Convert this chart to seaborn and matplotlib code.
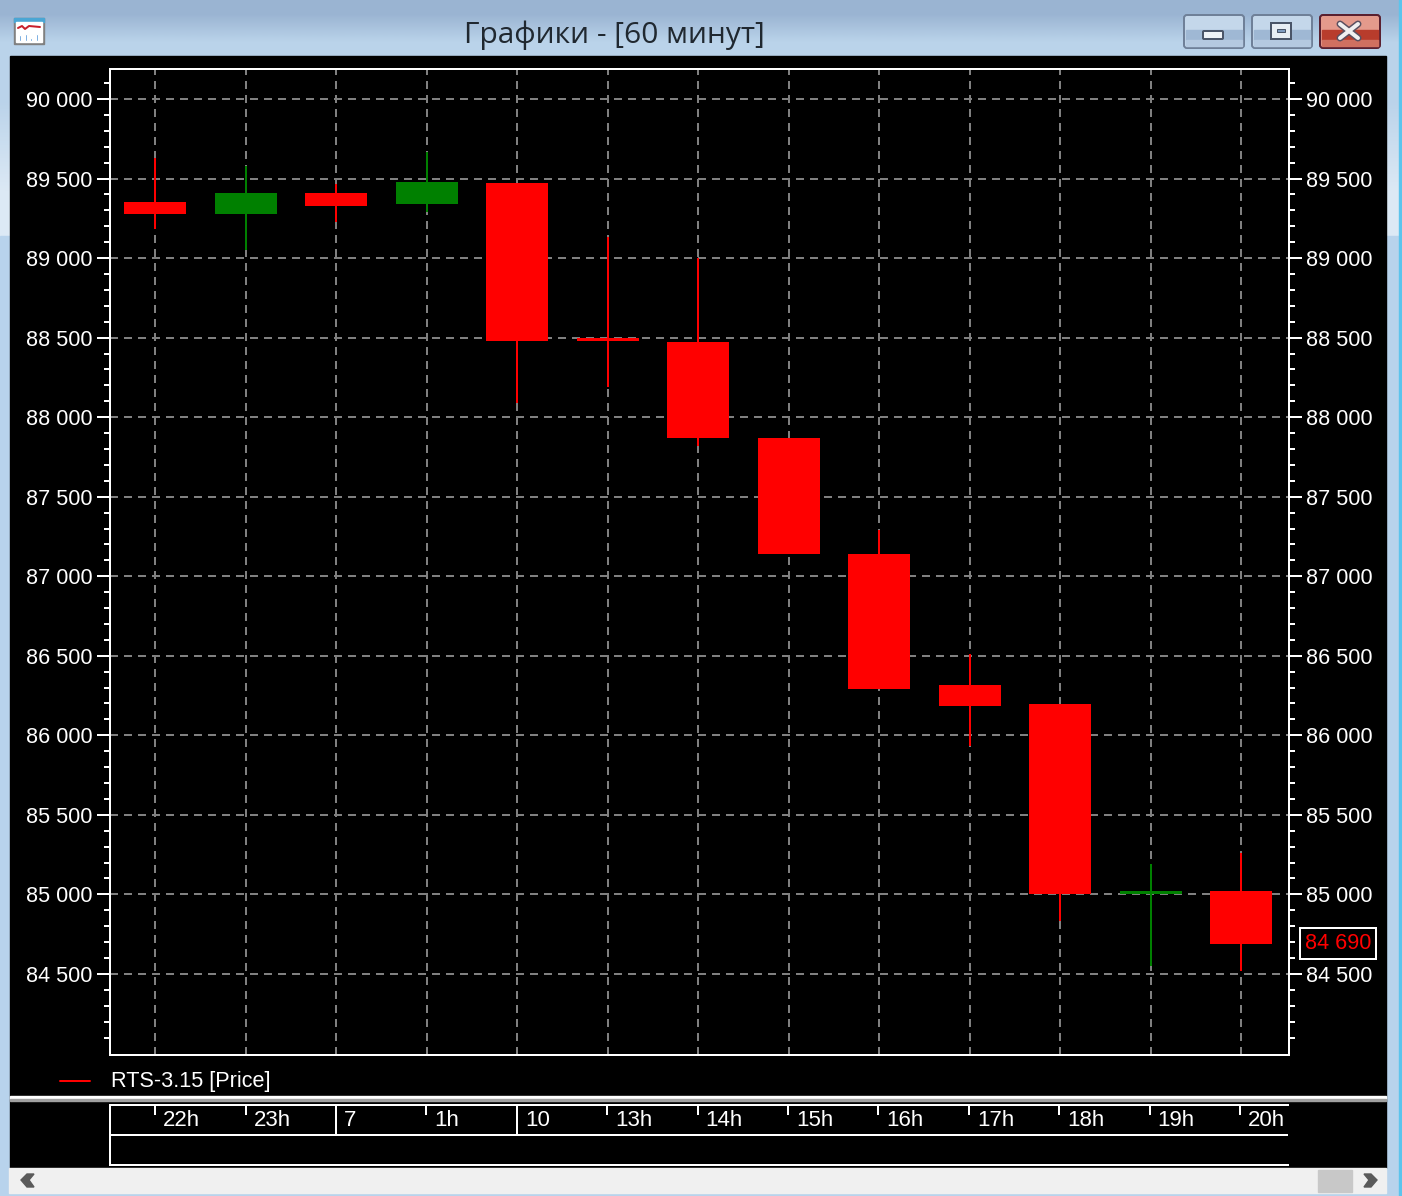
import numpy as np
import pandas as pd
import seaborn as sns
import matplotlib
matplotlib.use('Agg')
import matplotlib.pyplot as plt
from matplotlib.patches import Rectangle, FancyBboxPatch, Polygon
from matplotlib.ticker import FixedLocator, FuncFormatter

hours = ['22h', '23h', '7', '1h', '10', '13h', '14h', '15h', '16h', '17h', '18h', '19h', '20h']
open_price = [89350, 89280, 89410, 89340, 89470, 88500, 88470, 87870, 87140, 86315, 86195, 85000, 85020]
close_price = [89280, 89410, 89330, 89480, 88480, 88480, 87870, 87140, 86290, 86185, 85000, 85020, 84690]
high_price = [89630, 89580, 89465, 89665, 89470, 89130, 89000, 87870, 87290, 86510, 86195, 85190, 85260]
low_price = [89180, 89050, 89225, 89290, 88090, 88190, 87820, 87140, 86290, 85930, 84830, 84550, 84520]
price_labels = [84500, 85000, 85500, 86000, 86500, 87000, 87500, 88000, 88500, 89000, 89500, 90000]
day_marks = ['7', '10']
last_price = 84690
series_name = 'RTS-3.15 [Price]'
window_title = 'Графики - [60 минут]'

W, H = 1402, 1196
sns.set_style('dark')
plt.rcParams['lines.scale_dashes'] = False
plt.rcParams['font.family'] = ['Liberation Sans', 'DejaVu Sans']
PX = 0.72  # one pixel in points at dpi 100


def box(x0, y0, x1, y1):
    # axes rectangle from pixel edges, y counted from the top
    return [x0 / W, 1 - y1 / H, (x1 - x0) / W, (y1 - y0) / H]


df = pd.DataFrame({'hour': hours, 'open': open_price, 'close': close_price,
                   'high': high_price, 'low': low_price})
df['pos'] = np.arange(len(df))
df['bottom'] = df[['open', 'close']].min(axis=1)
df['height'] = (df['open'] - df['close']).abs()
df['up'] = df['close'] > df['open']

fig = plt.figure(figsize=(W / 100, H / 100), dpi=100)

# window chrome
bg = fig.add_axes([0, 0, 1, 1])
bg.axis('off')
grad = np.array([[0.0], [1.0]])
cmap = matplotlib.colors.LinearSegmentedColormap.from_list('win', ['#9ab4d2', '#bad3ea'])
bg.imshow(grad, extent=[0, W, 56, 0], aspect='auto', cmap=cmap, interpolation='bilinear', zorder=0)
cmap2 = matplotlib.colors.LinearSegmentedColormap.from_list('side', ['#bad3ea', '#dce9f5'])
bg.imshow(grad, extent=[0, W, 236, 56], aspect='auto', cmap=cmap2, interpolation='bilinear', zorder=0)
bg.add_patch(Rectangle((0, 236), W, H - 236, color='#b8d3ec', zorder=0))
bg.set_xlim(0, W)
bg.set_ylim(H, 0)
bg.add_patch(Rectangle((1399, 0), 3, H, color='#5cc4ec', zorder=1))
bg.add_patch(Rectangle((10, 56), 1376, 1112, color='black', zorder=1))
bg.add_patch(Rectangle((10, 1096), 1376, 3, color='white', zorder=2))
bg.add_patch(Rectangle((10, 1099), 1376, 2, color='#a0a0a0', zorder=2))
bg.add_patch(Rectangle((9, 1168), 1377, 25, color='#f0f0f0', zorder=1))
bg.add_patch(Rectangle((1318, 1170), 34, 22, color='#c8c8c8', zorder=2))
bg.add_patch(Polygon([[27, 1174], [34, 1174], [29, 1180], [34, 1187], [27, 1187], [21, 1180]], color='#5a5a5a', zorder=2))
bg.add_patch(Polygon([[1364, 1174], [1371, 1174], [1377, 1180], [1371, 1187], [1364, 1187], [1369, 1180]], color='#5a5a5a', zorder=2))

# title icon
bg.add_patch(Rectangle((14, 18), 30, 26, color='#808080', zorder=2))
bg.add_patch(Rectangle((14, 18), 30, 4, color='#4aa6d4', zorder=3))
bg.add_patch(Rectangle((16, 22), 26, 20, color='white', zorder=3))
bg.plot([18, 22, 25, 29, 40], [28, 26, 29, 26, 27], color='#c8202c', lw=2 * PX, zorder=4)
bg.bar([20, 26, 31, 37], [6, 7, 3, 7], width=2, bottom=[35, 34, 38, 34], color='#2f80d0', zorder=4)
bg.set_xlim(0, W)
bg.set_ylim(H, 0)

# window buttons
for x0, x1, top, band, low, edge in [(1184, 1244, '#c4d7ea', '#9fb8d4', '#b4c9e0', '#6f8098'),
                                     (1252, 1312, '#c4d7ea', '#9fb8d4', '#b4c9e0', '#6f8098'),
                                     (1320, 1380, '#e49a8c', '#b83c2c', '#d07060', '#5a2030')]:
    bg.add_patch(FancyBboxPatch((x0, 15), x1 - x0, 33, boxstyle='round,pad=0,rounding_size=3',
                                fc=top, ec=edge, lw=2 * PX, zorder=2))
    bg.add_patch(Rectangle((x0 + 2, 30), x1 - x0 - 4, 10, color=band, zorder=3))
    bg.add_patch(Rectangle((x0 + 2, 40), x1 - x0 - 4, 6, color=low, zorder=3))
bg.add_patch(FancyBboxPatch((1203, 31), 20, 8, boxstyle='round,pad=0,rounding_size=1',
                            fc='#eef2f6', ec='#4a5568', lw=2 * PX, zorder=4))
bg.add_patch(Rectangle((1271, 23), 20, 16, fc='#e8eef4', ec='#4a5568', lw=2 * PX, zorder=4))
bg.add_patch(Rectangle((1277, 29), 8, 3, fc='#7f9cc0', ec='#4a5568', lw=PX, zorder=5))
bg.plot([1340, 1358], [24, 38], color='#5a5060', lw=7 * PX, zorder=4)
bg.plot([1340, 1358], [38, 24], color='#5a5060', lw=7 * PX, zorder=4)
bg.plot([1340, 1358], [24, 38], color='#f0f0f0', lw=4 * PX, zorder=5)
bg.plot([1340, 1358], [38, 24], color='#f0f0f0', lw=4 * PX, zorder=5)
bg.text(614, 35, window_title, ha='center', va='center', fontsize=21.5,
        family=['Open Sans', 'DejaVu Sans'], color='#202830', zorder=5)

# legend strip
bg.plot([60, 90], [1081, 1081], color='red', lw=2 * PX, zorder=3)
bg.text(111, 1081, series_name, ha='left', va='center', color='white', fontsize=15.6, zorder=3)

# main chart
ax = fig.add_axes(box(109.5, 69, 1289, 1055), facecolor='black')
dash = (0, (8 * PX, 6 * PX))
ax.set_axisbelow(True)

up = df[df['up']]
down = df[~df['up']]
sns.barplot(data=down, x='hour', y='height', order=hours, bottom=down['bottom'].values,
            color='#ff0000', saturation=1, width=0.685, linewidth=0, ax=ax, zorder=3)
sns.barplot(data=up, x='hour', y='height', order=hours, bottom=up['bottom'].values,
            color='#008000', saturation=1, width=0.685, linewidth=0, ax=ax, zorder=3)
ax.vlines(down['pos'], down['low'], down['high'], color='#ff0000', lw=2 * PX, zorder=2, capstyle='butt')
ax.vlines(up['pos'], up['low'], up['high'], color='#008000', lw=2 * PX, zorder=2, capstyle='butt')

ax.set_xlim(-0.505, 12.53)
ax.set_ylim(83990, 90189)
ax.set_xlabel('')
ax.set_ylabel('')
ax.set_xticks(df['pos'])
ax.yaxis.set_major_locator(FixedLocator(price_labels))
ax.yaxis.set_minor_locator(FixedLocator([v for v in range(84100, 90200, 100) if v % 500]))
ax.yaxis.set_major_formatter(FuncFormatter(lambda v, p: f'{int(v):,}'.replace(',', ' ')))
ax.grid(True, which='major', axis='both', color='#808080', lw=2 * PX, linestyle=dash)
ax.tick_params(axis='x', which='both', bottom=False, labelbottom=False)
ax.tick_params(axis='y', which='major', left=True, right=True, labelleft=True, labelright=True,
               length=13 * PX, width=2 * PX, color='white', labelcolor='white', labelsize=15.6, pad=3)
ax.tick_params(axis='y', which='minor', left=True, right=True, length=6 * PX, width=2 * PX, color='white')
for s in ax.spines.values():
    s.set_visible(True)
    s.set_color('white')
    s.set_linewidth(2 * PX)

# last price box
ax.annotate(f'{last_price:,}'.replace(',', ' '), xy=(1, last_price), xycoords=('axes fraction', 'data'),
            xytext=(49 * PX, 0), textcoords='offset points', ha='center', va='center',
            color='red', fontsize=15.6, annotation_clip=False,
            bbox=dict(boxstyle='square,pad=0.22', fc='black', ec='white', lw=2 * PX))

# time axis
tx = fig.add_axes(box(109.5, 1105, 1288, 1165), facecolor='black')
tx.set_xlim(ax.get_xlim())
tx.set_ylim(2, 0)
tx.set_yticks([])
tx.set_xticks([])
tx.grid(False)
for side in ['top', 'left', 'bottom']:
    tx.spines[side].set_color('white')
    tx.spines[side].set_linewidth(2 * PX)
tx.spines['right'].set_visible(False)
tx.axhline(1, color='white', lw=2 * PX)
for p, h in zip(df['pos'], df['hour']):
    end = 1 if h in day_marks else 0.33
    tx.vlines(p, 0, end, color='white', lw=2 * PX, capstyle='butt')
    tx.annotate(h, xy=(p, 0.52), xycoords='data', xytext=(8 * PX, 0), textcoords='offset points',
                ha='left', va='center', color='white', fontsize=16)

fig.savefig('out.png', dpi=100, facecolor=fig.get_facecolor())
